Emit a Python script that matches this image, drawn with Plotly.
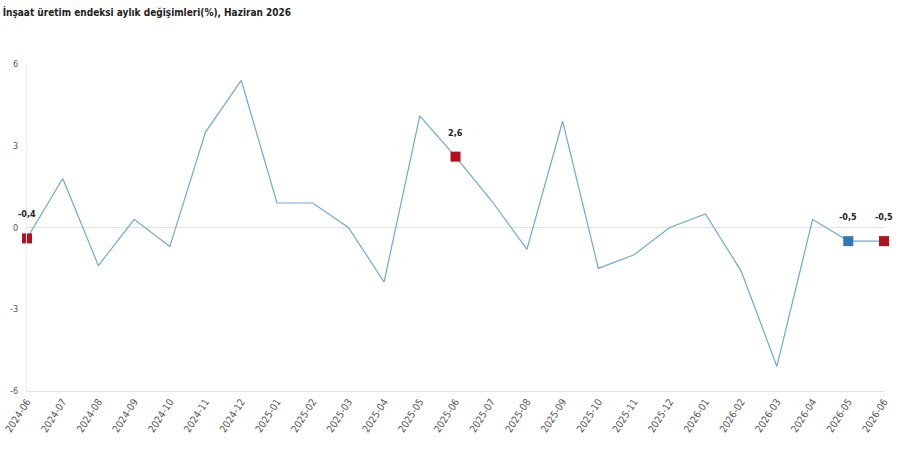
import plotly.graph_objects as go

months = ["2024-06", "2024-07", "2024-08", "2024-09", "2024-10", "2024-11", "2024-12",
          "2025-01", "2025-02", "2025-03", "2025-04", "2025-05", "2025-06", "2025-07",
          "2025-08", "2025-09", "2025-10", "2025-11", "2025-12", "2026-01", "2026-02",
          "2026-03", "2026-04", "2026-05", "2026-06"]
change = [-0.4, 1.8, -1.4, 0.3, -0.7, 3.5, 5.4, 0.9, 0.9, 0.0, -2.0, 4.1, 2.6, 1.0,
          -0.8, 3.9, -1.5, -1.0, 0.0, 0.5, -1.6, -5.1, 0.3, -0.5, -0.5]
yticks = [-6, -3, 0, 3, 6]

# highlighted points: (month, colour)
marked = [("2024-06", "#b3121c"), ("2025-06", "#b3121c"),
          ("2026-05", "#2e78b7"), ("2026-06", "#b3121c")]

narrow = "DejaVu Sans Condensed, Liberation Sans Narrow, sans-serif"

fig = go.Figure()
fig.add_trace(go.Scatter(
    x=months, y=change, mode="lines",
    line=dict(color="#6fa8d6", width=1.2),
    hoverinfo="x+y", showlegend=False
))

mx = [m for m, c in marked]
my = [change[months.index(m)] for m in mx]
fig.add_trace(go.Scatter(
    x=mx, y=my, mode="markers",
    marker=dict(symbol="square", size=10, color=[c for m, c in marked]),
    cliponaxis=False, showlegend=False
))
for m, v in zip(mx, my):
    fig.add_annotation(x=m, y=v, text="<b>" + ("%.1f" % v).replace(".", ",") + "</b>",
                       showarrow=False, yshift=24,
                       font=dict(family=narrow, size=9, color="#222"))

fig.update_layout(
    width=900, height=450,
    margin=dict(l=27, r=16, t=64, b=59, autoexpand=False),
    plot_bgcolor="white", paper_bgcolor="white",
    title=dict(text="<b>İnşaat üretim endeksi aylık değişimleri(%), Haziran 2026</b>",
               x=0.003, xanchor="left", y=0.972, yanchor="middle",
               font=dict(family=narrow, size=10, color="#222")),
    font=dict(family=narrow, size=9, color="#555"),
)
fig.update_xaxes(type="category", range=[0, len(months) - 1], tickangle=-57,
                 showgrid=False, showline=True, linecolor="#e3e3e3", ticks="",
                 automargin=False, tickfont=dict(family=narrow, size=10, color="#555"))
fig.update_yaxes(range=[-6, 6], tickvals=yticks, ticktext=[str(v) for v in yticks],
                 showgrid=False, zeroline=True, zerolinecolor="#e3e3e3", zerolinewidth=1,
                 showline=True, linecolor="#eeeeee", ticks="", ticklabelstandoff=6,
                 automargin=False, tickfont=dict(family=narrow, size=9, color="#555"))

# page body has a default 8px margin; drop it so the figure sits at the window origin
fig.write_html("out.html", config={"displayModeBar": False},
               post_script="document.body.style.margin='0';")
